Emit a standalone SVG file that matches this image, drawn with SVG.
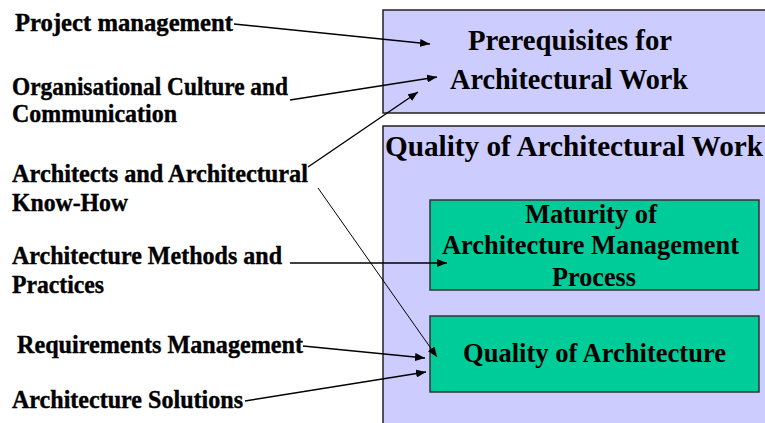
<svg xmlns="http://www.w3.org/2000/svg" width="765" height="423" viewBox="0 0 765 423">
  <style>
    .panel { fill: #ccccff; stroke: #222; stroke-width: 1.5; }
    .inner { fill: #00cc99; stroke: #333; stroke-width: 1.5; }
    text { font-family: "Liberation Serif", "Times New Roman", serif; font-weight: bold; fill: #000; }
    .lbl { font-size: 25px; stroke: #000; stroke-width: 0.4; }
    .head { font-size: 29px; }
    .sub { font-size: 26.5px; }
    .link { fill: none; stroke: #000; stroke-width: 1.4; marker-end: url(#tip); }
  </style>
  <defs>
    <marker id="tip" markerUnits="userSpaceOnUse" markerWidth="10" markerHeight="8" viewBox="0 0 10 8" refX="10" refY="4" orient="auto">
      <path d="M0,0 L10,4 L0,8 Z" fill="#000"/>
    </marker>
  </defs>

  <rect width="765" height="423" fill="#fff"/>

  <!-- upper panel -->
  <g id="prerequisites">
    <rect class="panel" x="383" y="10" width="390" height="103"/>
    <text class="head" x="468" y="50" textLength="204" lengthAdjust="spacingAndGlyphs">Prerequisites for</text>
    <text class="head" x="450" y="89" textLength="238" lengthAdjust="spacingAndGlyphs">Architectural Work</text>
  </g>

  <!-- lower panel with its two sub-boxes -->
  <g id="quality-work">
    <rect class="panel" x="383" y="126" width="390" height="310"/>
    <text class="head" x="385" y="156" textLength="378" lengthAdjust="spacingAndGlyphs">Quality of Architectural Work</text>
  </g>
  <g id="maturity">
    <rect class="inner" x="430" y="200" width="329" height="90"/>
    <text class="sub" x="525" y="223" textLength="132" lengthAdjust="spacingAndGlyphs">Maturity of</text>
    <text class="sub" x="442" y="254" textLength="297" lengthAdjust="spacingAndGlyphs">Architecture Management</text>
    <text class="sub" x="552" y="286" textLength="84" lengthAdjust="spacingAndGlyphs">Process</text>
  </g>
  <g id="quality-architecture">
    <rect class="inner" x="430" y="316" width="329" height="76"/>
    <text class="sub" x="463" y="362" textLength="263" lengthAdjust="spacingAndGlyphs">Quality of Architecture</text>
  </g>

  <!-- influencing factors -->
  <g id="project-management">
    <text class="lbl" x="15" y="31" textLength="218" lengthAdjust="spacingAndGlyphs">Project management</text>
  </g>
  <g id="culture">
    <text class="lbl" x="12" y="95" textLength="276" lengthAdjust="spacingAndGlyphs">Organisational Culture and</text>
    <text class="lbl" x="12" y="122" textLength="165" lengthAdjust="spacingAndGlyphs">Communication</text>
  </g>
  <g id="architects">
    <text class="lbl" x="12" y="182" textLength="296" lengthAdjust="spacingAndGlyphs">Architects and Architectural</text>
    <text class="lbl" x="12" y="211" textLength="116" lengthAdjust="spacingAndGlyphs">Know-How</text>
  </g>
  <g id="methods">
    <text class="lbl" x="12" y="264" textLength="270" lengthAdjust="spacingAndGlyphs">Architecture Methods and</text>
    <text class="lbl" x="12" y="293" textLength="92" lengthAdjust="spacingAndGlyphs">Practices</text>
  </g>
  <g id="requirements">
    <text class="lbl" x="17" y="353" textLength="286" lengthAdjust="spacingAndGlyphs">Requirements Management</text>
  </g>
  <g id="solutions">
    <text class="lbl" x="12" y="408" textLength="231" lengthAdjust="spacingAndGlyphs">Architecture Solutions</text>
  </g>

  <!-- connectors -->
  <g id="connectors">
    <path class="link" d="M234,24 L430,44"/>
    <path class="link" d="M290,100 L437,77"/>
    <path class="link" d="M308,167 L418,92"/>
    <path class="link" d="M318,188 L437,357" style="stroke-width:1"/>
    <path class="link" d="M290,263 L447,263"/>
    <path class="link" d="M303,346 L425,358"/>
    <path class="link" d="M245,401 L426,372"/>
  </g>
</svg>
